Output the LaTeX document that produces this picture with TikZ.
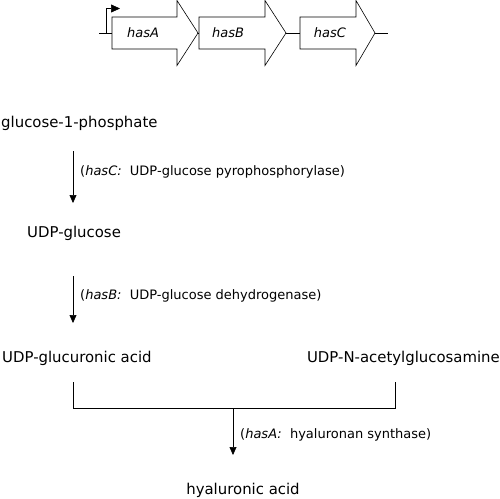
\documentclass[tikz,border=0pt]{standalone}
\usepackage{fontspec}
\setmainfont{DejaVu Sans}
\usetikzlibrary{arrows.meta}
\begin{document}
\begin{tikzpicture}[x=1pt,y=-1pt,
  gene/.style={draw,line width=0.6pt,fill=white},
  big/.style={font=\fontsize{14.9}{16}\selectfont,inner sep=0pt},
  lab/.style={font=\fontsize{13}{15}\selectfont,inner sep=0pt,anchor=west},
  genelab/.style={font=\fontsize{13}{15}\selectfont\itshape,inner sep=0pt},
  link/.style={line width=0.6pt},
  arr/.style={line width=0.6pt,-{Triangle[length=8pt,width=7pt]}}]
\useasboundingbox (0,0) rectangle (500,498);
% gene cluster
\draw[link] (99,33) -- (388,33);
\draw[gene] (112,17) -- (177,17) -- (177,0.5) -- (198,33) -- (177,65.5) -- (177,49) -- (112,49) -- cycle;
\draw[gene] (199,17) -- (265,17) -- (265,0.5) -- (286,33) -- (265,65.5) -- (265,49) -- (199,49) -- cycle;
\draw[gene] (300,17) -- (356,17) -- (356,0.5) -- (375,33) -- (356,65.5) -- (356,49) -- (300,49) -- cycle;
\node[genelab] (hA) at (143,33) {hasA};
\node[genelab] (hB) at (228,33) {hasB};
\node[genelab] (hC) at (330,33) {hasC};
\draw[link,-{Triangle[length=9pt,width=8pt]}] (106,33) -- (106,8.5) -- (120,8.5);
% metabolites
\node[big,anchor=west] (g1p) at (1,123) {glucose-1-phosphate};
\node[big,anchor=west] (udpg) at (27,233) {UDP-glucose};
\node[big,anchor=west] (udpga) at (2,358) {UDP-glucuronic acid};
\node[big,anchor=east] (udpnag) at (500,358) {UDP-N-acetylglucosamine};
\node[big] (ha) at (243,490) {hyaluronic acid};
% arrows
\coordinate (a1s) at (73,151);
\coordinate (a1e) at (73,203);
\draw[arr] (a1s) -- (a1e);
\node[lab] (l1) at (80,172) {(\textit{hasC:}\ \ UDP-glucose pyrophosphorylase)};
\coordinate (a2s) at (73,276);
\coordinate (a2e) at (73,323);
\draw[arr] (a2s) -- (a2e);
\node[lab] (l2) at (80,296) {(\textit{hasB:}\ \ UDP-glucose dehydrogenase)};
\coordinate (b1) at (73,382);
\coordinate (b2) at (395,382);
\coordinate (bj) at (233,408);
\draw[link] (b1) -- (73,408) -- (395,408) -- (b2);
\coordinate (a3e) at (233,455);
\draw[arr] (bj) -- (a3e);
\node[lab] (l3) at (240,435) {(\textit{hasA:}\ \ hyaluronan synthase)};
\end{tikzpicture}
\end{document}
